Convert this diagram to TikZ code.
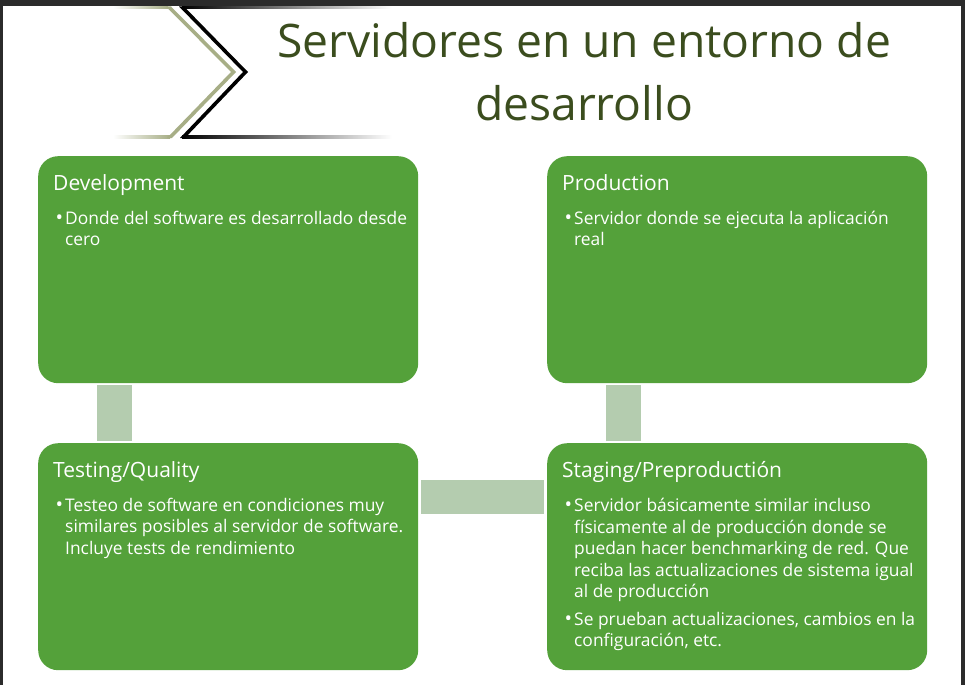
\documentclass[tikz,border=0pt]{standalone}
\usepackage{fontspec}
\setmainfont{Open Sans}
\usetikzlibrary{calc}
\definecolor{boxgreen}{HTML}{54A13A}
\definecolor{connfill}{HTML}{B4CCAF}
\definecolor{titlegreen}{HTML}{3B4D1E}
\definecolor{olivedark}{HTML}{6A772A}
\definecolor{olivepale}{HTML}{A7AE86}
\definecolor{framegray}{HTML}{2B2B2B}
\newcommand{\linesblock}[1]{\begin{tabular}[t]{@{}l@{}}#1\end{tabular}}
\begin{document}
\begin{tikzpicture}[x=1pt,y=-1pt,
  stagebox/.style={draw=none, fill=boxgreen, rounded corners=20pt,
    minimum width=380pt, minimum height=227pt, inner sep=0pt, anchor=north west},
  headtxt/.style={text=white, font=\fontsize{21}{25}\selectfont, anchor=base west, inner sep=0pt},
  bodytxt/.style={text=white, font=\fontsize{17.4}{21.5}\selectfont, anchor=base west, inner sep=0pt},
  bullettxt/.style={text=white, font=\fontsize{20}{21.5}\selectfont, anchor=base west, inner sep=0pt},
  linkbar/.style={draw=connfill, line width=35pt},
  titletxt/.style={text=titlegreen, font=\fontsize{46.2}{56}\selectfont, anchor=base, inner sep=0pt}
]
\useasboundingbox (0,0) rectangle (965,685);
\fill[white] (0,0) rectangle (965,685);
% frame
\fill[framegray] (0,0) rectangle (3,685);
\fill[framegray] (961,0) rectangle (965,685);
\fill[framegray] (0,0) rectangle (965,6);

% chevrons
\shade[left color=white, right color=olivepale] (113,6.5) rectangle (168,9);
\shade[left color=white, right color=olivepale] (113,135.5) rectangle (170,138);
\shade[top color=olivepale, middle color=olivedark, bottom color=olivepale]
  (166,6.5) -- (231,72) -- (167,138) -- (172,138) -- (236,72) -- (171,6.5) -- cycle;
\shade[left color=black, right color=white] (182,6.5) rectangle (392,9);
\shade[left color=black, right color=white] (182,135.5) rectangle (392,138);
\shade[top color=black, middle color=black!65, bottom color=black]
  (179,6.5) -- (243,72) -- (180,138) -- (185,138) -- (248,72) -- (184,6.5) -- cycle;

% title
\node[titletxt] (title1) at (584,57) {Servidores en un entorno de};
\node[titletxt] (title2) at (584,120) {desarrollo};

% boxes
\node[stagebox] (dev)  at (38,156) {};
\node[stagebox] (prod) at (547,156) {};
\node[stagebox] (test) at (38,443) {};
\node[stagebox] (stag) at (547,443) {};

% connectors
\draw[linkbar] ($(dev.south west)+(76.5,2)$) -- ($(test.north west)+(76.5,-2)$);
\draw[linkbar, line width=34pt] ($(test.north east)+(3,54)$) -- ($(stag.north west)+(-3,54)$);
\draw[linkbar] ($(stag.north west)+(76.5,-2)$) -- ($(prod.south west)+(76.5,2)$);

% Development
\node[headtxt] (devh) at ($(dev.north west)+(15,34)$) {Development};
\node[bullettxt] (devb) at ($(dev.north west)+(17.5,68)$) {•};
\node[bodytxt] (devt) at ($(dev.north west)+(27,68)$) {\linesblock{Donde del software es desarrollado desde\\cero}};

% Production
\node[headtxt] (prodh) at ($(prod.north west)+(15,34)$) {Production};
\node[bullettxt] (prodb) at ($(prod.north west)+(17.5,68)$) {•};
\node[bodytxt] (prodt) at ($(prod.north west)+(27,68)$) {\linesblock{Servidor donde se ejecuta la aplicación\\real}};

% Testing
\node[headtxt] (testh) at ($(test.north west)+(15,34)$) {Testing/Quality};
\node[bullettxt] (testb) at ($(test.north west)+(17.5,68)$) {•};
\node[bodytxt] (testt) at ($(test.north west)+(27,68)$) {\linesblock{Testeo de software en condiciones muy\\similares posibles al servidor de software.\\Incluye tests de rendimiento}};

% Staging
\node[headtxt] (stagh) at ($(stag.north west)+(15,34)$) {Staging/Preproductión};
\node[bullettxt] (stagb1) at ($(stag.north west)+(17.5,68.5)$) {•};
\node[bodytxt] (stagt1) at ($(stag.north west)+(27,68.5)$) {\linesblock{Servidor básicamente similar incluso\\físicamente al de producción donde se\\puedan hacer benchmarking de red. Que\\reciba las actualizaciones de sistema igual\\al de producción}};
\node[bullettxt] (stagb2) at ($(stag.north west)+(17.5,182)$) {•};
\node[bodytxt] (stagt2) at ($(stag.north west)+(27,182)$) {\linesblock{Se prueban actualizaciones, cambios en la\\configuración, etc.}};
\end{tikzpicture}
\end{document}
